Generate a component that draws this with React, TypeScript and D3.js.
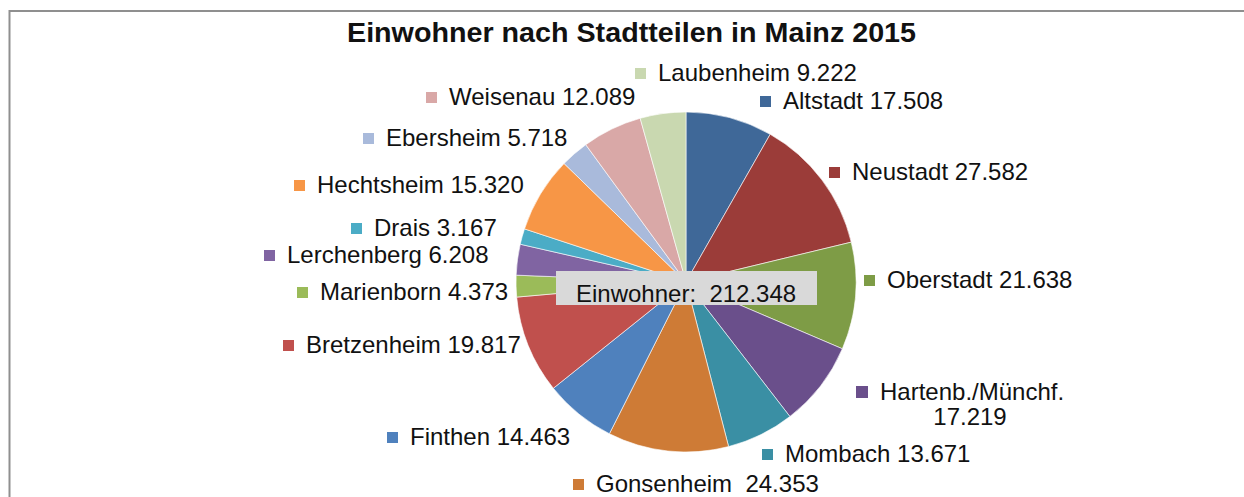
import React from "react";
import * as d3 from "d3";

const districts = [
  "Altstadt", "Neustadt", "Oberstadt", "Hartenb./Münchf.", "Mombach", "Gonsenheim",
  "Finthen", "Bretzenheim", "Marienborn", "Lerchenberg", "Drais", "Hechtsheim",
  "Ebersheim", "Weisenau", "Laubenheim",
];
const residents = [
  17508, 27582, 21638, 17219, 13671, 24353, 14463, 19817, 4373, 6208, 3167, 15320,
  5718, 12089, 9222,
];
const sliceColors = [
  "#3F6898", "#9B3C39", "#7E9C46", "#6A4F8B", "#3A8FA4", "#CE7B36",
  "#4F81BD", "#C0504D", "#9BBB59", "#8064A2", "#4BACC6", "#F79646",
  "#A9BADB", "#D9A8A7", "#C9D8B0",
];
const title = "Einwohner nach Stadtteilen in Mainz 2015";
const totalLabel = "Einwohner:";

// label layout (text start x / baseline y); Hartenb. label is centred on two lines
const labelLayout: { x: number; y: number; sep?: string; twoLine?: boolean }[] = [
  { x: 783, y: 109 },
  { x: 852, y: 180 },
  { x: 887, y: 288 },
  { x: 880, y: 400, twoLine: true },
  { x: 785, y: 462 },
  { x: 596, y: 492, sep: "  " },
  { x: 410, y: 445 },
  { x: 306, y: 353 },
  { x: 320, y: 300 },
  { x: 287, y: 263 },
  { x: 374, y: 236 },
  { x: 317, y: 193 },
  { x: 386, y: 146 },
  { x: 449, y: 105 },
  { x: 658, y: 81 },
];

const de = d3.formatLocale({ decimal: ",", thousands: ".", grouping: [3], currency: ["", " €"] });
const fmt = de.format(",d");

export default function App() {
  const W = 1244, H = 497;
  const cx = 686, cy = 282, r = 170;
  const pie = d3.pie<number>().sort(null).value((d) => d)(residents);
  const arc = d3.arc<d3.PieArcDatum<number>>().innerRadius(0).outerRadius(r);
  const total = d3.sum(residents);
  const font = "'Liberation Sans', Arial, sans-serif";

  return (
    <svg width={W} height={H} style={{ position: "absolute", left: 0, top: 0 }} fontFamily={font}>
      <rect x={0} y={0} width={W} height={H} fill="#fff" />
      <path d={`M9.5,${H} V11 H${W}`} fill="none" stroke="#8f8f8f" strokeWidth={2} />
      <text x={347} y={42} fontSize={28} fontWeight="bold" fill="#111" textLength={569} lengthAdjust="spacingAndGlyphs">
        {title}
      </text>
      <g transform={`translate(${cx},${cy})`}>
        {pie.map((p, i) => (
          <path key={i} d={arc(p) || ""} fill={sliceColors[i]} stroke="#fff" strokeWidth={0.6} />
        ))}
      </g>
      <rect x={556} y={271} width={261} height={34} fill="#D9D9D9" />
      <text x={576} y={302} fontSize={24} fill="#111" style={{ whiteSpace: "pre" }}>
        {`${totalLabel}  ${fmt(total)}`}
      </text>
      {districts.map((name, i) => {
        const L = labelLayout[i];
        const val = fmt(residents[i]);
        if (L.twoLine) {
          return (
            <g key={i}>
              <rect x={L.x - 24} y={L.y - 14} width={12} height={12} fill={sliceColors[i]} />
              <text x={L.x} y={L.y} fontSize={24} fill="#111">{name}</text>
              <text x={970} y={L.y + 25} fontSize={24} fill="#111" textAnchor="middle">{val}</text>
            </g>
          );
        }
        return (
          <g key={i}>
            <rect x={L.x - 23} y={L.y - 13} width={11} height={11} fill={sliceColors[i]} />
            <text x={L.x} y={L.y} fontSize={24} fill="#111" style={{ whiteSpace: "pre" }}>
              {`${name}${L.sep ?? " "}${val}`}
            </text>
          </g>
        );
      })}
    </svg>
  );
}
